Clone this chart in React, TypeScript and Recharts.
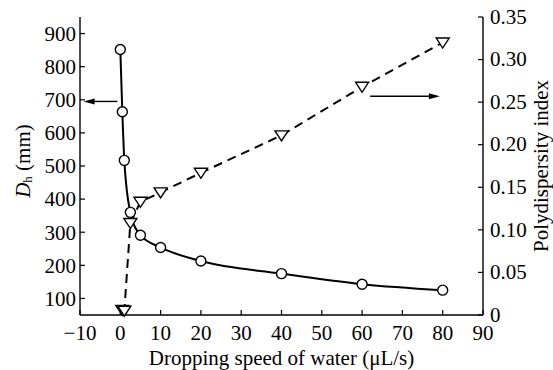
import { LineChart, Line, XAxis, YAxis, ReferenceLine } from 'recharts';

// D_h (left axis) vs dropping speed
const speedDh = [0, 0.5, 1, 2.5, 5, 10, 20, 40, 60, 80];
const dhValues = [852, 664, 517, 360, 291, 254, 213, 175, 143, 125];

// polydispersity index (right axis) vs dropping speed
const speedPdi = [0.5, 1, 2.5, 5, 10, 20, 40, 60, 80];
const pdiValues = [0.006, 0.005, 0.108, 0.133, 0.144, 0.167, 0.211, 0.268, 0.32];

const xTicks = [-10, 0, 10, 20, 30, 40, 50, 60, 70, 80, 90];
const leftTicks = [100, 200, 300, 400, 500, 600, 700, 800, 900];
const rightTicks = [0, 0.05, 0.1, 0.15, 0.2, 0.25, 0.3, 0.35];

const dhData = speedDh.map((s, i) => ({ speed: s, dh: dhValues[i] }));
const pdiData = speedPdi.map((s, i) => ({ speed: s, pdi: pdiValues[i] }));

const FONT = 'Liberation Serif, DejaVu Serif, serif';
const FS = 21;
const txt = { fontFamily: FONT, fontSize: FS };

const LeftTick = (props: any) => {
  const { x, y, payload } = props;
  return (
    <g>
      <line x1={x + 4} y1={y} x2={x + 9} y2={y} stroke="#000" strokeWidth={1.2} />
      <text x={x} y={y} dy="0.35em" textAnchor="end" style={txt} fill="#000">
        {payload.value}
      </text>
    </g>
  );
};

const RightTick = (props: any) => {
  const { x, y, payload } = props;
  const v = payload.value;
  return (
    <g>
      <line x1={x - 7} y1={y} x2={x - 12} y2={y} stroke="#000" strokeWidth={1.2} />
      <text x={x} y={y} dy="0.32em" textAnchor="start" style={txt} fill="#000">
        {v === 0 ? '0' : v.toFixed(2)}
      </text>
    </g>
  );
};

const BottomTick = (props: any) => {
  const { x, y, payload } = props;
  const v = payload.value;
  return (
    <g>
      <line x1={x} y1={y - 8} x2={x} y2={y - 13} stroke="#000" strokeWidth={1.2} />
      <text x={x} y={y} dy="0.8em" textAnchor="middle" style={txt} fill="#000">
        {v < 0 ? '\u2212' + Math.abs(v) : v}
      </text>
    </g>
  );
};

const Circle = (props: any) => {
  const { cx, cy, index } = props;
  return <circle key={'c' + index} cx={cx} cy={cy} r={5} fill="#fff" stroke="#000" strokeWidth={1.4} />;
};

const Triangle = (props: any) => {
  const { cx, cy, index } = props;
  const pts = `${cx - 6.5},${cy - 4.5} ${cx + 6.5},${cy - 4.5} ${cx},${cy + 5.5}`;
  return <polygon key={'t' + index} points={pts} fill="#fff" stroke="#000" strokeWidth={1.4} />;
};

const Arrow = (props: any) => {
  const { x1, y1, x2, y2 } = props;
  const dir = x2 > x1 ? 1 : -1;
  return (
    <g>
      <line x1={x1} y1={y1} x2={x2 - dir * 8} y2={y2} stroke="#000" strokeWidth={1.4} />
      <polygon points={`${x2},${y2} ${x2 - dir * 11},${y2 - 3} ${x2 - dir * 11},${y2 + 3}`} fill="#000" />
    </g>
  );
};

const DhLabel = (props: any) => {
  const { viewBox } = props;
  const cx = viewBox.x + 23;
  const cy = viewBox.y + viewBox.height / 2 - 5;
  return (
    <text x={cx} y={cy} transform={`rotate(-90, ${cx}, ${cy})`} textAnchor="middle" dominantBaseline="central"
      style={txt} fill="#000">
      <tspan fontStyle="italic">D</tspan>
      <tspan fontSize={13} dy={4}>h</tspan>
      <tspan dy={-4}> (mm)</tspan>
    </text>
  );
};

const PdiLabel = (props: any) => {
  const { viewBox } = props;
  const cx = viewBox.x + 58;
  const cy = viewBox.y + viewBox.height / 2;
  return (
    <text x={cx} y={cy} transform={`rotate(-90, ${cx}, ${cy})`} textAnchor="middle" dominantBaseline="central"
      style={txt} fill="#000">
      Polydispersity index
    </text>
  );
};

const XLabel = (props: any) => {
  const { viewBox } = props;
  const cx = viewBox.x + viewBox.width / 2;
  return (
    <text x={cx} y={viewBox.y + 43} textAnchor="middle" dominantBaseline="central" style={txt} fill="#000">
      Dropping speed of water (μL/s)
    </text>
  );
};

export default function App() {
  return (
    <div style={{ position: 'absolute', left: 0, top: 0, background: '#fff' }}>
      <LineChart width={553} height={370} margin={{ top: 17, right: 0, left: 0, bottom: 0 }}>
        <XAxis
          dataKey="speed"
          type="number"
          domain={[-10, 90]}
          ticks={xTicks}
          interval={0}
          allowDuplicatedCategory={false}
          height={55}
          axisLine={{ stroke: '#000', strokeWidth: 1.4 }}
          tickLine={false}
          tickSize={0}
          tickMargin={8}
          tick={<BottomTick />}
          label={<XLabel />}
        />
        <XAxis
          xAxisId="top"
          orientation="top"
          type="number"
          domain={[-10, 90]}
          height={0}
          tick={false}
          tickLine={false}
          axisLine={{ stroke: '#000', strokeWidth: 1.4 }}
        />
        <YAxis
          yAxisId="left"
          type="number"
          domain={[50, 950]}
          ticks={leftTicks}
          interval={0}
          width={80}
          axisLine={{ stroke: '#000', strokeWidth: 1.4 }}
          tickLine={false}
          tickSize={0}
          tickMargin={4}
          tick={<LeftTick />}
          label={<DhLabel />}
        />
        <YAxis
          yAxisId="right"
          orientation="right"
          type="number"
          domain={[0, 0.35]}
          ticks={rightTicks}
          interval={0}
          width={70}
          axisLine={{ stroke: '#000', strokeWidth: 1.4 }}
          tickLine={false}
          tickSize={0}
          tickMargin={7}
          tick={<RightTick />}
          label={<PdiLabel />}
        />
        <ReferenceLine
          yAxisId="left"
          segment={[{ x: -0.7, y: 695 }, { x: -9.1, y: 695 }]}
          shape={<Arrow />}
        />
        <ReferenceLine
          yAxisId="right"
          segment={[{ x: 62, y: 0.257 }, { x: 79.3, y: 0.257 }]}
          shape={<Arrow />}
        />
        <Line
          yAxisId="right"
          data={pdiData}
          dataKey="pdi"
          type="linear"
          stroke="#000"
          strokeWidth={2}
          strokeDasharray="9 6"
          dot={Triangle}
          isAnimationActive={false}
        />
        <Line
          yAxisId="left"
          data={dhData}
          dataKey="dh"
          type="monotone"
          stroke="#000"
          strokeWidth={2}
          dot={Circle}
          isAnimationActive={false}
        />
      </LineChart>
    </div>
  );
}
